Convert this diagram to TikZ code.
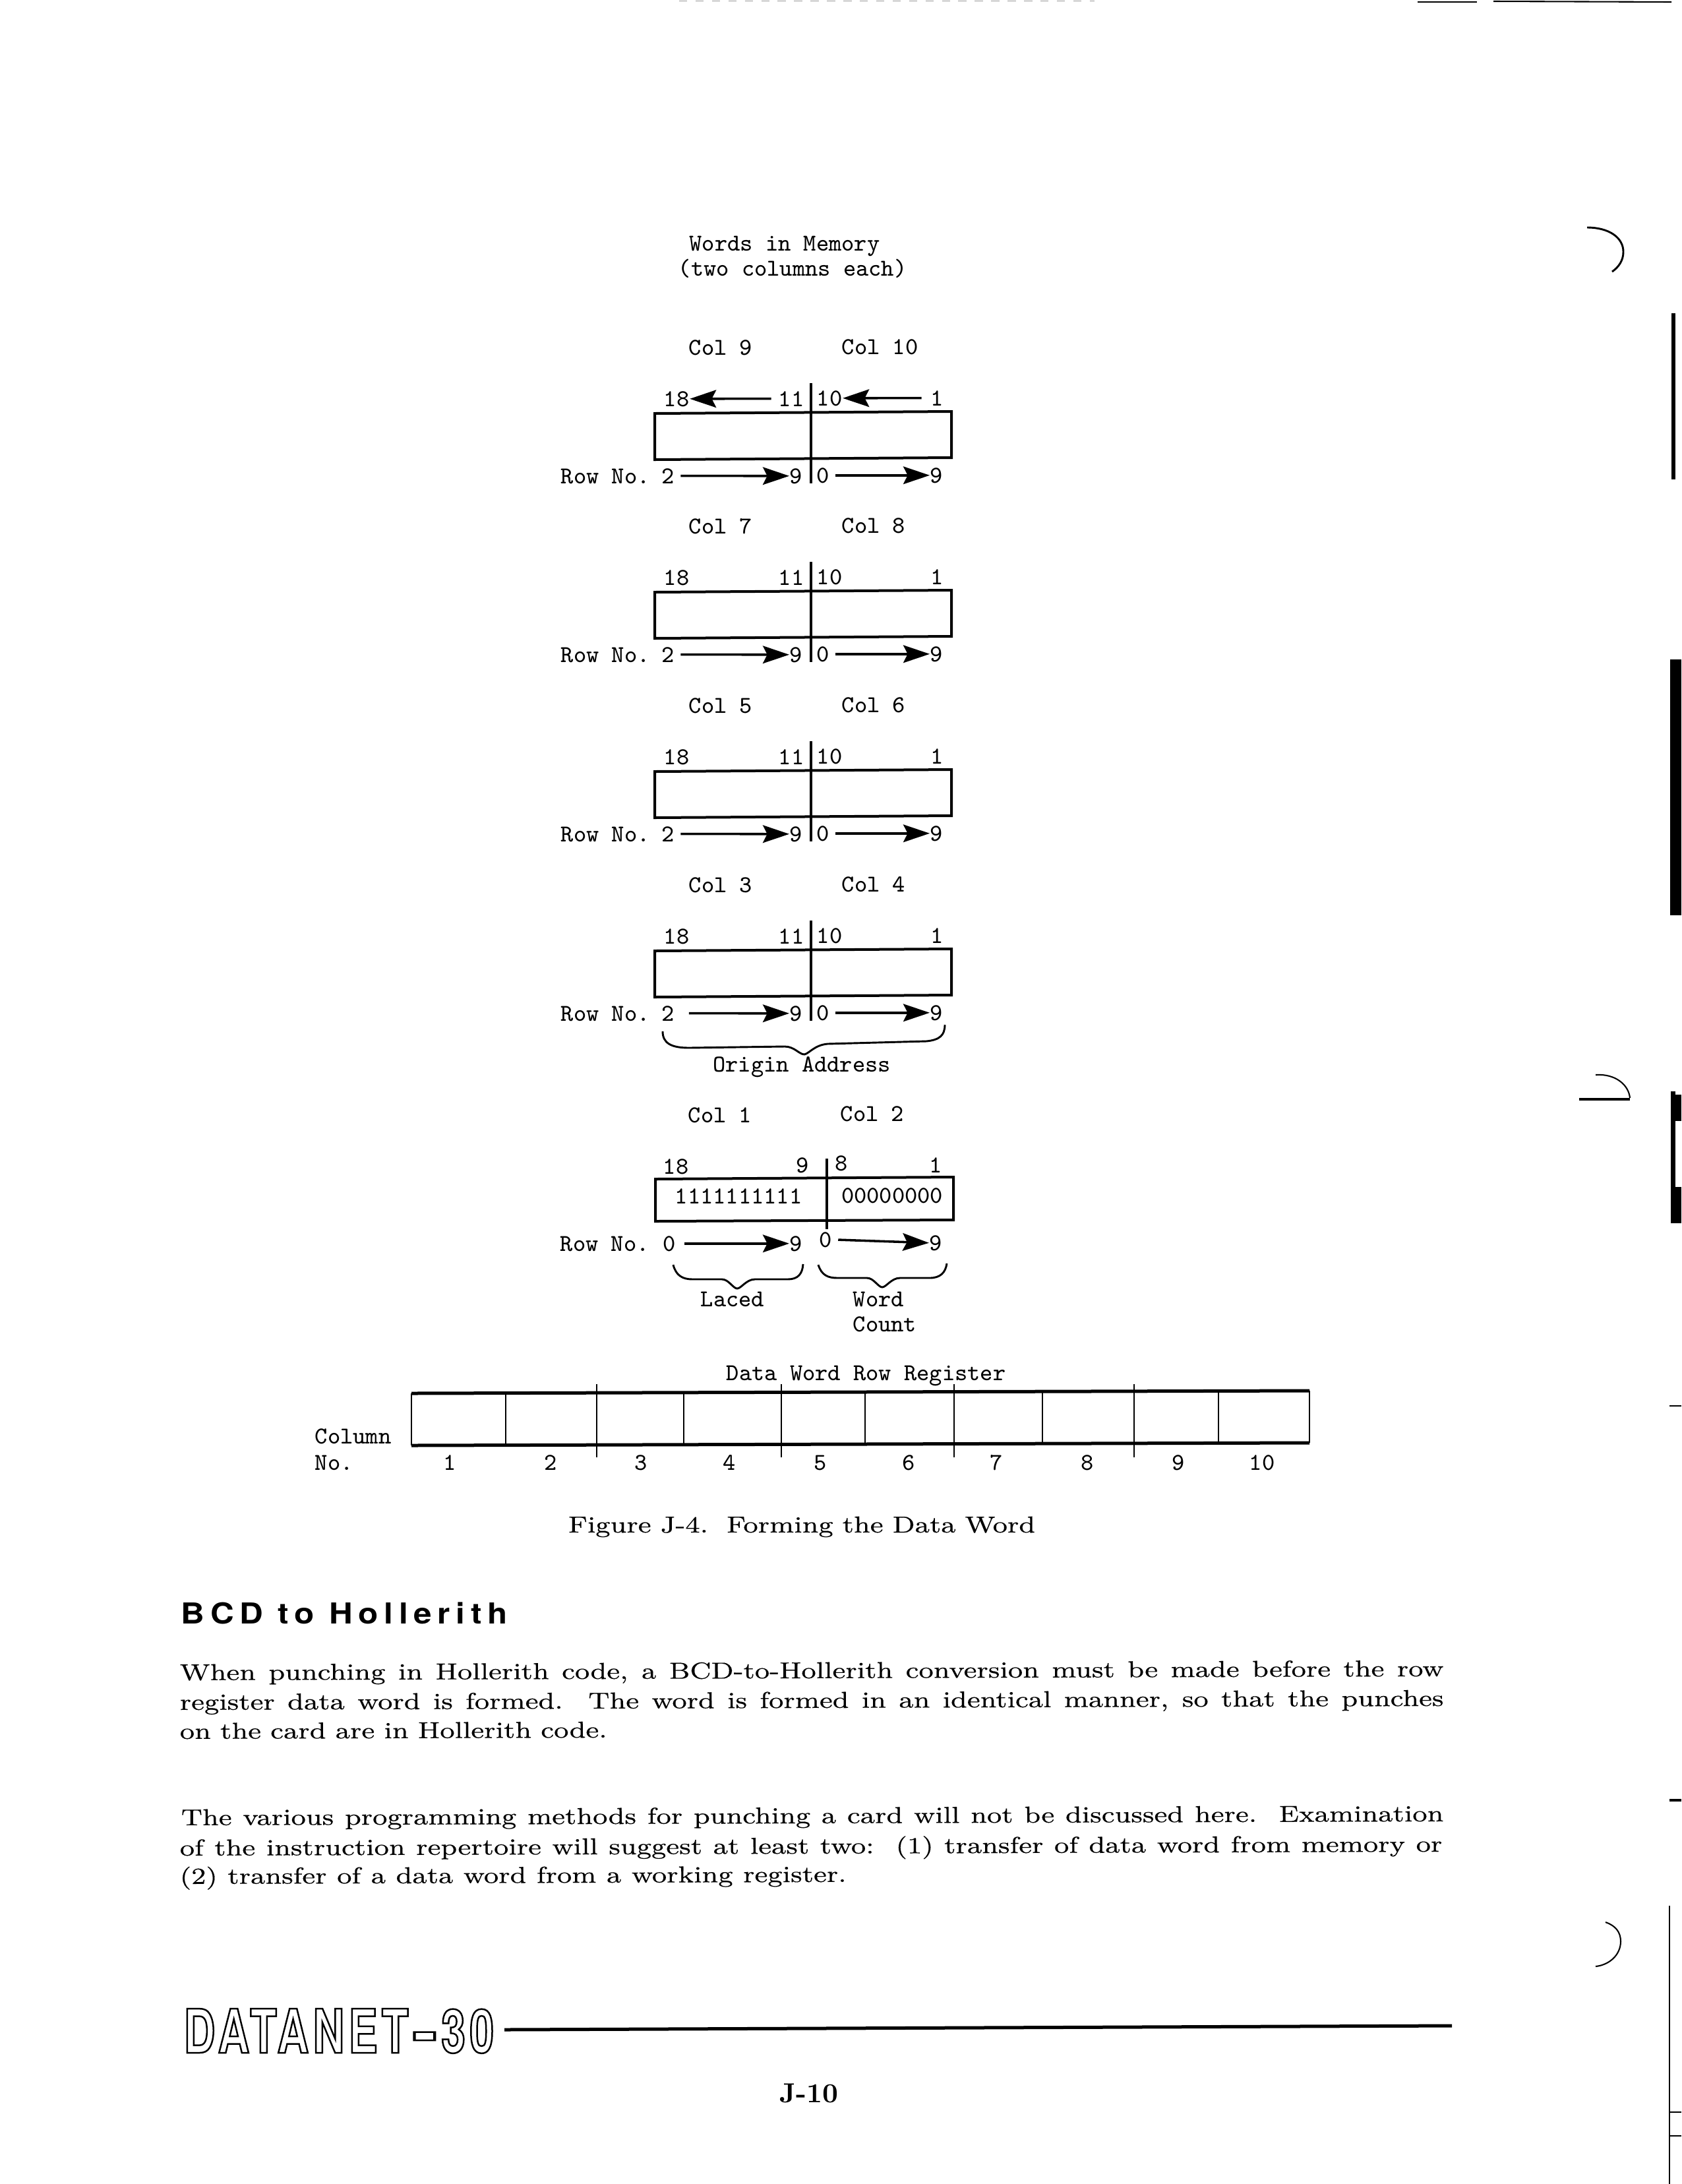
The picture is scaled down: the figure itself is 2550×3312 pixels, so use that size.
\documentclass[tikz,border=0pt]{standalone}
\usepackage{fontspec}
\usetikzlibrary{arrows.meta}
\newfontfamily\bodyfam[FakeStretch=1.2,FakeBold=0.25]{Latin Modern Roman}
\newfontfamily\headfam[FakeStretch=1.13,LetterSpace=20]{TeX Gyre Heros}
\newfontfamily\logofam[FakeStretch=0.72,LetterSpace=7]{TeX Gyre Heros}
\newcommand{\monofont}{\ttfamily\fontsize{8.8bp}{10.5bp}\selectfont}
\newcommand{\bodyfont}{\bodyfam\fontsize{8.4bp}{10.5bp}\selectfont}
\newcommand{\outlined}[1]{\special{pdf:code 1 Tr 0.6 w}#1\special{pdf:code 0 Tr}}
\tikzstyle{mono}=[font=\monofont,inner sep=0pt,anchor=base west]
\tikzstyle{monomid}=[font=\monofont,inner sep=0pt,anchor=base]
\tikzstyle{bodyline}=[font=\bodyfont,inner sep=0pt,anchor=base west,rotate=0.18]
\tikzstyle{boxline}=[line width=0.96bp]
\tikzstyle{regline}=[line width=1.2bp]
\tikzstyle{thindiv}=[line width=0.6bp]
\tikzstyle{bracel}=[line width=0.7bp]
\tikzstyle{myarrow}=[line width=0.85bp,-{Stealth[length=9.6bp,width=6.4bp,inset=1.6bp]}]
\tikzstyle{scanmark}=[black]

\begin{document}
\begin{tikzpicture}[x=0.24bp,y=-0.24bp]
	\useasboundingbox (0,0) rectangle (2550,3312);

	\node[monomid] (words) at (1190,380) {Words in Memory};
	\node[monomid] (twocol) at (1202,418) {(two columns each)};

	\foreach \n / \t / \cl / \cr / \sh in {a/627/9/10/2,b/898/7/8/2,c/1170/5/6/2,d/1442/3/4/5} {
		\node[mono] (colL\n) at (1044,{\t-89}) {Col \cl};
		\node[mono] (colR\n) at (1276,{\t-90}) {Col \cr};
		\node[mono] (topA\n) at (1006,{\t-11}) {18};
		\node[mono] (topB\n) at (1180,{\t-11}) {11};
		\node[mono] (topC\n) at (1238,{\t-12}) {10};
		\node[mono] (topD\n) at (1411,{\t-12}) {1};
		\node[mono] (rowno\n) at (850,{\t+106}) {Row No.};
		\node[mono] (rowA\n) at (1003,{\t+106}) {2};
		\node[mono] (rowB\n) at (1197,{\t+106}) {9};
		\node[mono] (rowC\n) at (1238,{\t+105}) {0};
		\node[mono] (rowD\n) at (1410,{\t+105}) {9};
		\draw[boxline] (993,\t) -- (1443,{\t-3}) -- (1443,{\t+67}) -- (993,{\t+70}) -- cycle;
		\draw[boxline] (1230,{\t-46}) -- (1230,{\t+106});
		\draw[myarrow,shorten <=\sh bp] (rowA\n.east) -- (rowB\n.west);
		\draw[myarrow,shorten <=2bp] (rowC\n.east) -- (rowD\n.west);
	}

	\draw[myarrow,shorten <=2.5bp] (topBa.west) -- (topAa.east);
	\draw[myarrow,shorten <=3.2bp] (topDa.west) -- (topCa.east);

	\draw[bracel] (1005,1564) .. controls (1005,1582) and (1018,1589) .. (1045,1589) -- (1190,1587) .. controls (1205,1587) and (1212,1599) .. (1220,1599) .. controls (1228,1597) and (1235,1585) .. (1255,1583) -- (1405,1579) .. controls (1425,1577) and (1433,1570) .. (1433,1554);
	\node[monomid] (origin) at (1216,1625) {Origin Address};

	\node[mono] (colLe) at (1043,1702) {Col 1};
	\node[mono] (colRe) at (1274,1700) {Col 2};
	\node[mono] (topAe) at (1005,1780) {18};
	\node[mono] (topBe) at (1207,1778) {9};
	\node[mono] (topCe) at (1266,1775) {8};
	\node[mono] (topDe) at (1409,1778) {1};
	\draw[boxline] (994,1788) -- (1446,1785) -- (1446,1850) -- (994,1852) -- cycle;
	\draw[boxline] (1254,1757) -- (1254,1864);
	\node[monomid] (ones) at (1120,1825) {1111111111};
	\node[monomid] (zeros) at (1353,1824) {00000000};
	\node[mono] (rownoe) at (849,1897) {Row No.};
	\node[mono] (rowAe) at (1005,1897) {0};
	\node[mono] (rowBe) at (1197,1897) {9};
	\node[mono] (rowCe) at (1242,1891) {0};
	\node[mono] (rowDe) at (1409,1896) {9};
	\draw[myarrow,shorten <=3bp] (rowAe.east) -- (rowBe.west);
	\draw[myarrow,shorten <=2bp] (rowCe.east) -- (rowDe.west);
	\draw[bracel] (1021,1918) .. controls (1025,1934) and (1035,1940) .. (1050,1940) -- (1095,1940) .. controls (1105,1940) and (1112,1954) .. (1118,1954) .. controls (1124,1954) and (1132,1940) .. (1145,1940) -- (1195,1940) .. controls (1210,1940) and (1217,1932) .. (1218,1917);
	\draw[bracel] (1241,1918) .. controls (1246,1934) and (1256,1938) .. (1270,1938) -- (1315,1938) .. controls (1325,1938) and (1332,1952) .. (1338,1952) .. controls (1344,1952) and (1352,1938) .. (1365,1938) -- (1410,1938) .. controls (1426,1938) and (1434,1930) .. (1436,1916);
	\node[mono] (laced) at (1062,1981) {Laced};
	\node[mono] (word) at (1293,1981) {Word};
	\node[mono] (count) at (1293,2019) {Count};

	\node[mono] (regtitle) at (1101,2093) {Data Word Row Register};
	\draw[regline] (624,2113) -- (1986,2109);
	\draw[regline] (624,2192) -- (1986,2188);
	\draw[thindiv] (624,2113) -- (624,2192);
	\draw[thindiv] (1986,2109) -- (1986,2188);
	\foreach \x in {767,1037,1312,1581,1848} {\draw[thindiv] (\x,{2113-(\x-624)*0.003}) -- +(0,79);}
	\foreach \x in {905,1185,1447,1720} {\draw[thindiv] (\x,2099) -- (\x,2210);}
	\node[mono] (column) at (477,2189) {Column};
	\node[mono] (columnno) at (477,2229) {No.};
	\foreach \n / \x in {1/682,2/835,3/972,4/1106,5/1244,6/1378,7/1511,8/1649,9/1787,10/1914} {\node[monomid] (num\n) at (\x,2229) {\n};}

	\node[bodyline,rotate=-0.18] (caption) at (861,2324) {\makebox[170bp][s]{Figure J-4.~~Forming the Data Word}};

	\node[inner sep=0pt,anchor=base west,font=\headfam\bfseries\fontsize{10.5bp}{12bp}\selectfont] (heading) at (274,2462) {BCD to Hollerith};

	\node[bodyline] (lineA) at (272,2548) {\makebox[460bp][s]{When punching in Hollerith code, a BCD-to-Hollerith conversion must be made before the row}};
	\node[bodyline] (lineB) at (272,2593) {\makebox[460bp][s]{register data word is formed.~~The word is formed in an identical manner, so that the punches}};
	\node[bodyline] (lineC) at (272,2637) {\makebox[155.5bp][s]{on the card are in Hollerith code.}};
	\node[bodyline] (lineD) at (274,2768) {\makebox[459.5bp][s]{The various programming methods for punching a card will not be discussed here.~~Examination}};
	\node[bodyline] (lineE) at (272,2814) {\makebox[459.5bp][s]{of the instruction repertoire will suggest at least two:~~(1) transfer of data word from memory or}};
	\node[bodyline] (lineF) at (272,2857) {\makebox[242.6bp][s]{(2) transfer of a data word from a working register.}};

	\node[inner sep=0pt,anchor=base west,font=\logofam\bfseries\fontsize{22bp}{24bp}\selectfont] (logo) at (278,3113) {\outlined{DATANET\kern1.5bp\scalebox{1.7}[1]{-}\kern1.5bp30}};
	\coordinate (ruleend) at (2202,3072);
	\draw[line width=1.2bp] (765,3078) -- (ruleend);

	\node[inner sep=0pt,anchor=base west,font=\rmfamily\bfseries\fontsize{10bp}{11bp}\selectfont] (pageno) at (1182,3188) {J-10};

	\draw[line width=0.2bp,dashed,black!40] (1030,1) -- (1660,1);
	\draw[line width=0.5bp] (2150,3) -- (2240,3);
	\draw[line width=0.5bp] (2265,2) -- (2535,3);
	\fill[scanmark] (2535,475) rectangle (2541,727);
	\fill[scanmark] (2533,1000) rectangle (2550,1388);
	\fill[scanmark] (2534,1655) rectangle (2541,1855);
	\fill[scanmark] (2541,1660) rectangle (2550,1700);
	\fill[scanmark] (2541,1800) rectangle (2550,1855);
	\draw[line width=0.7bp] (2407,345) .. controls (2440,345) and (2462,360) .. (2462,382) .. controls (2462,395) and (2455,405) .. (2445,412);
	\draw[line width=0.5bp] (2420,1630) .. controls (2450,1628) and (2470,1645) .. (2472,1665);
	\draw[line width=1bp] (2395,1667) -- (2472,1667);
	\draw[line width=0.5bp] (2435,2915) .. controls (2450,2920) and (2458,2930) .. (2458,2944) .. controls (2458,2965) and (2440,2980) .. (2420,2982);
	\draw[line width=0.5bp] (2532,2890) -- (2532,3312);
	\draw[line width=0.6bp] (2532,2132) -- (2550,2132);
	\draw[line width=0.8bp] (2532,2730) -- (2550,2730);
	\draw[line width=0.3bp] (2532,3203) -- (2550,3203);
	\draw[line width=0.3bp] (2532,3239) -- (2550,3239);
\end{tikzpicture}
\end{document}
